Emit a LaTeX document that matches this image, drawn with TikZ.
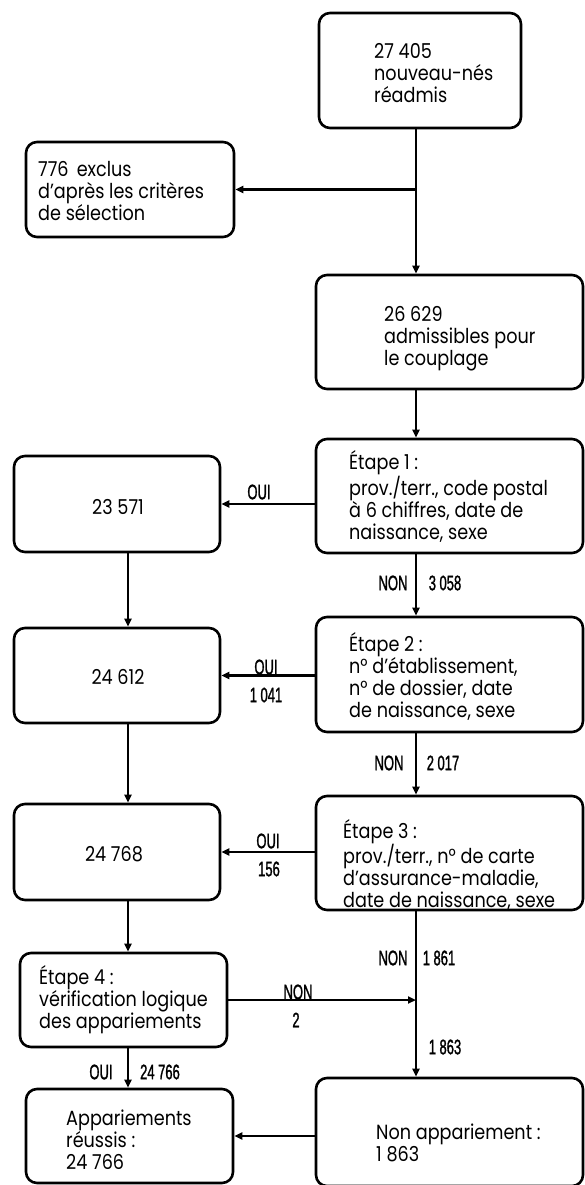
\documentclass[tikz,border=0pt]{standalone}
\usepackage{fontspec}
\setmainfont{Poppins}[FakeStretch=0.86]
\newfontfamily\labfont{Liberation Sans}[FakeStretch=0.62,FakeBold=1.2]
\usetikzlibrary{arrows.meta}
\begin{document}
\begin{tikzpicture}[x=1pt,y=-1pt,
  box/.style={draw,line width=2.6pt,rounded corners=11pt,inner sep=0pt},
  txt/.style={anchor=west,align=left,font=\fontsize{20.5}{22}\selectfont,inner sep=0pt},
  lab/.style={font=\labfont\fontsize{21}{20}\selectfont,inner sep=0pt},
  varr/.style={line width=1.9pt,-{Triangle[length=8pt,width=7pt]}},
  harr/.style={line width=2.6pt,-{Triangle[length=8pt,width=7pt]}}]
\useasboundingbox (0,0) rectangle (584,1185);
% boxes
\node[box,minimum width=202pt,minimum height=115pt] (A) at (420,70.5) {};
\node[box,minimum width=208pt,minimum height=95pt] (B) at (130,189.5) {};
\node[box,minimum width=267pt,minimum height=114pt] (C) at (449.5,332) {};
\node[box,minimum width=267pt,minimum height=114pt] (E1) at (449.5,496) {};
\node[box,minimum width=206pt,minimum height=96pt] (R1) at (117,504) {};
\node[box,minimum width=267pt,minimum height=115pt] (E2) at (449.5,674.5) {};
\node[box,minimum width=206pt,minimum height=95pt] (R2) at (117,675.5) {};
\node[box,minimum width=267pt,minimum height=114pt] (E3) at (449.5,853) {};
\node[box,minimum width=206pt,minimum height=96pt] (R3) at (117,852) {};
\node[box,minimum width=207pt,minimum height=94pt] (E4) at (123.5,1000) {};
\node[box,minimum width=207pt,minimum height=94pt] (AP) at (129.5,1136) {};
\node[box,minimum width=267pt,minimum height=108pt] (NA) at (449.5,1132) {};
% texts
\node[txt] (tA) at (374,73.5) {27 405\\nouveau-nés\\réadmis};
\node[txt] (tB) at (38,191.5) {776\, exclus\\d’après les critères\\de sélection};
\node[txt] (tC) at (384,338.5) {26 629\\admissibles pour\\le couplage};
\node[txt] (tE1) at (349,496.5) {Étape 1 :\\prov./terr., code postal\\à 6 chiffres, date de\\naissance, sexe};
\node[txt,anchor=center] (tR1) at (118,507) {23 571};
\node[txt] (tE2) at (349,676) {Étape 2 :\\n° d’établissement,\\n° de dossier, date\\de naissance, sexe};
\node[txt,anchor=center] (tR2) at (118,677) {24 612};
\node[txt] (tE3) at (343,865) {Étape 3 :\\prov./terr., n° de carte\\d’assurance-maladie,\\date de naissance, sexe};
\node[txt,anchor=center] (tR3) at (114,854) {24 768};
\node[txt] (tE4) at (39,1000) {Étape 4 :\\vérification logique\\des appariements};
\node[txt] (tAP) at (66,1140) {Appariements\\réussis :\\24 766};
\node[txt] (tNA) at (376,1143) {Non appariement :\\1 863};
% connectors
\coordinate (vx) at (416,0);
\coordinate (lx) at (128,0);
\draw[varr] (A.south -| vx) -- (C.north -| vx);
\draw[harr] (vx |- B.east) -- (B.east);
\draw[varr] (C.south -| vx) -- (E1.north -| vx);
\draw[harr] (E1.west |- R1.east) -- (R1.east);
\draw[varr] (E1.south -| vx) -- (E2.north -| vx);
\draw[varr] (R1.south -| lx) -- (R2.north -| lx);
\draw[harr] (E2.west |- R2.east) -- (R2.east);
\draw[varr] (E2.south -| vx) -- (E3.north -| vx);
\draw[varr] (R2.south -| lx) -- (R3.north -| lx);
\draw[harr] (E3.west |- R3.east) -- (R3.east);
\draw[varr] (R3.south -| lx) -- (E4.north -| lx);
\draw[varr] (E3.south -| vx) -- (NA.north -| vx);
\draw[harr] (E4.east) -- (vx |- E4.east);
\draw[varr] (E4.south -| lx) -- (AP.north -| lx);
\draw[harr] (NA.west |- AP.east) -- (AP.east);
% labels
\node[lab] (l1) at (259,492) {OUI};
\node[lab] (l2) at (393,583) {NON};
\node[lab] (l3) at (445,583) {3\,058};
\node[lab] (l4) at (266,667) {OUI};
\node[lab] (l5) at (266,695) {1\,041};
\node[lab] (l6) at (389,763) {NON};
\node[lab] (l7) at (443,763) {2\,017};
\node[lab] (l8) at (268,841) {OUI};
\node[lab] (l9) at (269,869) {156};
\node[lab] (l10) at (393,958) {NON};
\node[lab] (l11) at (439,958) {1\,861};
\node[lab] (l12) at (298,992) {NON};
\node[lab] (l13) at (296,1020) {2};
\node[lab] (l14) at (445,1047) {1\,863};
\node[lab] (l15) at (101,1072) {OUI};
\node[lab] (l16) at (160,1072) {24\,766};
\end{tikzpicture}
\end{document}
